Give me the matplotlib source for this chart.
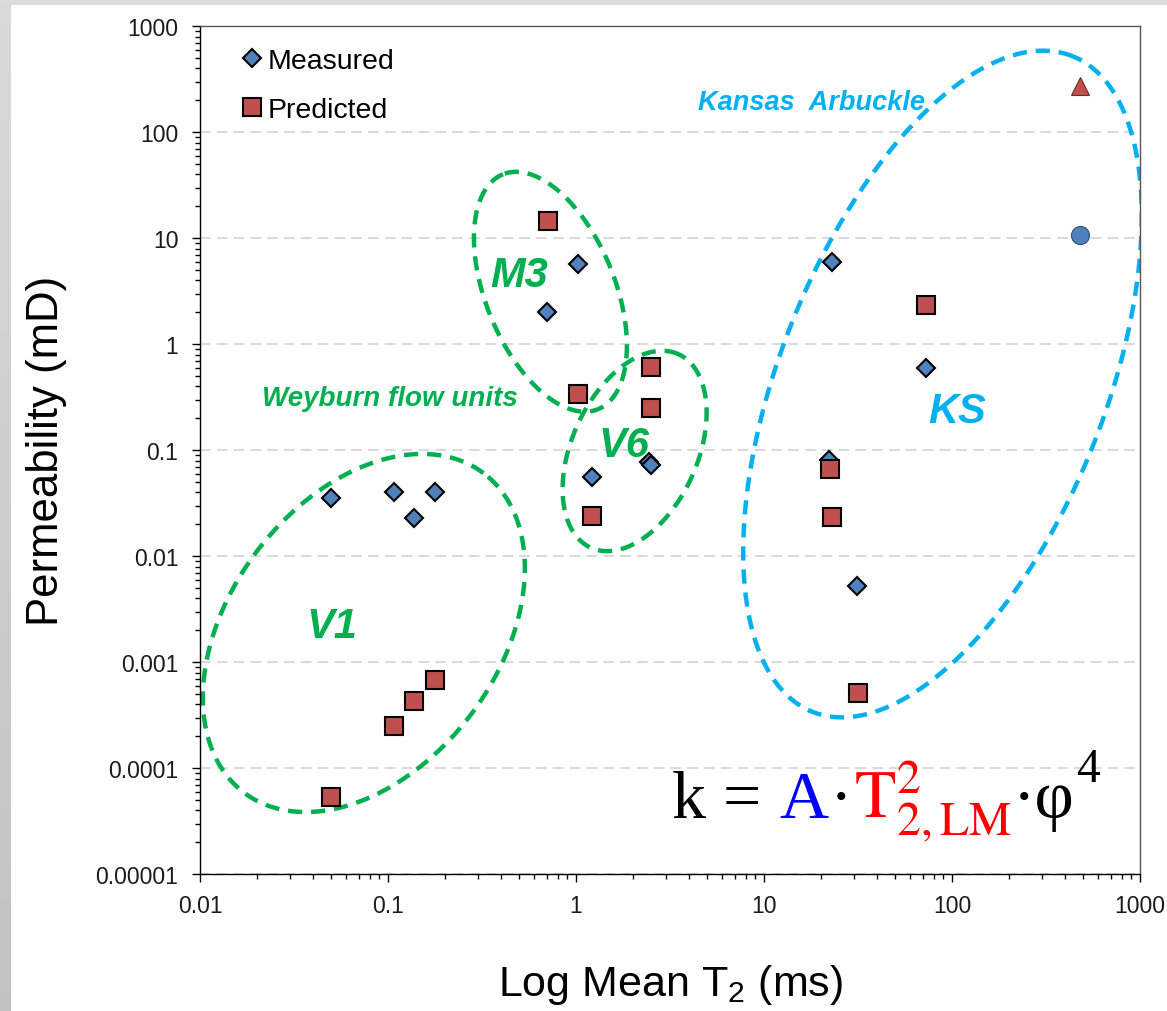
import numpy as np
import matplotlib
matplotlib.use("Agg")
import matplotlib.pyplot as plt
from matplotlib.ticker import LogLocator, NullFormatter

# measured permeability (diamonds)
meas_t2 = [0.05, 0.107, 0.137, 0.177, 0.70, 1.02, 1.21, 2.45, 2.52, 22.2, 22.9, 31.4, 72.7]
meas_k = [0.0355, 0.0407, 0.0230, 0.0407, 2.0, 5.72, 0.0564, 0.078, 0.072, 0.081, 5.94, 0.00528, 0.597]

# predicted permeability (squares)
pred_t2 = [0.05, 0.108, 0.138, 0.178, 0.706, 1.02, 1.21, 2.51, 2.51, 22.4, 23.0, 31.5, 72.7]
pred_k = [5.4e-5, 2.52e-4, 4.29e-4, 6.85e-4, 14.5, 0.34, 0.0242, 0.607, 0.251, 0.0667, 0.0233, 5.1e-4, 2.35]

# Kansas Arbuckle extra points
ks_meas_t2 = [480]
ks_meas_k = [10.8]
ks_pred_t2 = [480]
ks_pred_k = [275]

x_ticks = [0.01, 0.1, 1, 10, 100, 1000]
x_tick_labels = ["0.01", "0.1", "1", "10", "100", "1000"]
y_ticks = [1e-5, 1e-4, 1e-3, 1e-2, 0.1, 1, 10, 100, 1000]
y_tick_labels = ["0.00001", "0.0001", "0.001", "0.01", "0.1", "1", "10", "100", "1000"]

# groups: name, center (T2, k), semi axes (x-decades), angle (deg on screen), colour
groups = [
    ("V1", (0.0744, 0.00189), 1.062, 0.716, 53.2, "#00B050"),
    ("M3", (0.731, 3.13), 0.674, 0.344, 112.0, "#00B050"),
    ("V6", (2.05, 0.0986), 0.565, 0.334, 65.7, "#00B050"),
    ("KS", (89.0, 0.422), 1.876, 0.865, 68.4, "#00B0F0"),
]
group_labels = [("V1", 0.0504, 0.00172), ("M3", 0.498, 3.57),
                ("V6", 1.80, 0.0889), ("KS", 106, 0.184)]

plt.rcParams["font.family"] = ["Liberation Sans", "DejaVu Sans"]

fig = plt.figure(figsize=(11.67, 10.12), dpi=100)
ax = fig.add_axes([200 / 1167, 1 - 875.3 / 1012, 940 / 1167, 848 / 1012])

# grey frame of the slide
strip = fig.add_axes([0, 0, 11 / 1167, 1])
strip.imshow(np.linspace(0.85, 0.76, 100).reshape(-1, 1), cmap="gray", vmin=0, vmax=1, aspect="auto")
strip.axis("off")
top = fig.add_axes([0, 1 - 6 / 1012, 1, 6 / 1012])
top.set_facecolor("#dcdcdc")
top.set_xticks([])
top.set_yticks([])
for s in top.spines.values():
    s.set_visible(False)

ax.set_xscale("log")
ax.set_yscale("log")
ax.set_xlim(0.01, 1000)
ax.set_ylim(1e-5, 1000)

# ellipses drawn in log space; screen decade in y is 106/188 of a decade in x
ratio = 188 / 106
t = np.linspace(0, 2 * np.pi, 500)
for name, (cx, cy), a, b, ang, col in groups:
    th = np.radians(ang)
    dx = a * np.cos(t) * np.cos(th) - b * np.sin(t) * np.sin(th)
    dy = a * np.cos(t) * np.sin(th) + b * np.sin(t) * np.cos(th)
    ax.plot(cx * 10 ** dx, cy * 10 ** (dy * ratio), color=col, lw=3.2,
            dashes=(3.2, 2.0), dash_capstyle="butt", zorder=2)

for name, x, y in group_labels:
    col = "#00B0F0" if name == "KS" else "#00B050"
    ax.text(x, y, name, color=col, fontsize=30, fontweight="bold", fontstyle="italic",
            ha="center", va="baseline", zorder=3)

ax.text(0.0214, 0.267, "Weyburn flow units", color="#00B050", fontsize=20,
        fontweight="bold", fontstyle="italic", ha="left", va="baseline")
ax.text(71.8, 166, "Kansas  Arbuckle", color="#00B0F0", fontsize=19.5,
        fontweight="bold", fontstyle="italic", ha="right", va="baseline")

ax.plot(meas_t2, meas_k, "D", ms=9.5, mfc="#4F81BD", mec="black", mew=1.5,
        ls="none", label="Measured", zorder=4)
ax.plot(pred_t2, pred_k, "s", ms=12.5, mfc="#C0504D", mec="black", mew=1.5,
        ls="none", label="Predicted", zorder=5)
ax.plot(ks_meas_t2, ks_meas_k, "o", ms=13, mfc="#4F81BD", mec="#2F4F73", mew=0.8,
        ls="none", zorder=4)
ax.plot(ks_pred_t2, ks_pred_k, "^", ms=13, mfc="#C0504D", mec="#6b2a28", mew=0.8,
        ls="none", zorder=4)

ax.set_xticks(x_ticks)
ax.set_xticklabels(x_tick_labels)
ax.set_yticks(y_ticks)
ax.set_yticklabels(y_tick_labels)
ax.xaxis.set_minor_locator(LogLocator(base=10, subs=np.arange(2, 10)))
ax.yaxis.set_minor_locator(LogLocator(base=10, subs=np.arange(2, 10), numticks=20))
ax.xaxis.set_minor_formatter(NullFormatter())
ax.yaxis.set_minor_formatter(NullFormatter())
ax.tick_params(which="both", direction="out", top=False, right=False,
               labelsize=16.5, labelcolor="#1a1a1a", width=1)
ax.tick_params(which="major", length=5.5)
ax.tick_params(which="minor", length=3.5)
ax.tick_params(axis="y", which="major", pad=10)
ax.tick_params(axis="x", which="major", pad=9)
for s in ax.spines.values():
    s.set_linewidth(1)
ax.spines["top"].set_color("#555555")
ax.spines["right"].set_color("#555555")

ax.yaxis.grid(True, which="major", color="#d0d0d0", linestyle=(0, (7, 4)), linewidth=1.1)
ax.set_axisbelow(True)

ax.set_xlabel(r"Log Mean T$\mathregular{_2}$ (ms)", fontsize=31)
ax.set_ylabel("Permeability (mD)", fontsize=31.5)
ax.xaxis.set_label_coords(0.5, -0.103)
ax.yaxis.set_label_coords(-0.142, 0.5)

ax.legend(loc="upper left", bbox_to_anchor=(0.034, 0.988), frameon=False, fontsize=20.5,
          handlelength=0.6, handletextpad=0.25, labelspacing=0.8, borderaxespad=0,
          numpoints=1)

# formula, built from coloured pieces
fs = 49
yb = 0.0676
txt = ax.text(0.502, yb, "k = ", transform=ax.transAxes, fontsize=fs,
              family="Liberation Serif", color="black", va="baseline", ha="left")
pieces = [("A", "#0000FF", fs, 0), ("·", "black", fs, 0),
          (r"$\mathrm{T}^{2}_{\mathrm{2,LM}}$", "#FF0000", fs, 0),
          ("·φ", "black", fs, 0), ("4", "black", fs * 0.7, 26)]
for piece, col, size, rise in pieces:
    txt = ax.annotate(piece, xy=(1, yb), xycoords=(txt, "axes fraction"),
                      xytext=(1, rise), textcoords="offset points", fontsize=size,
                      family="Liberation Serif", math_fontfamily="stix", color=col,
                      va="baseline", ha="left")

fig.savefig("out.png", dpi=100)
